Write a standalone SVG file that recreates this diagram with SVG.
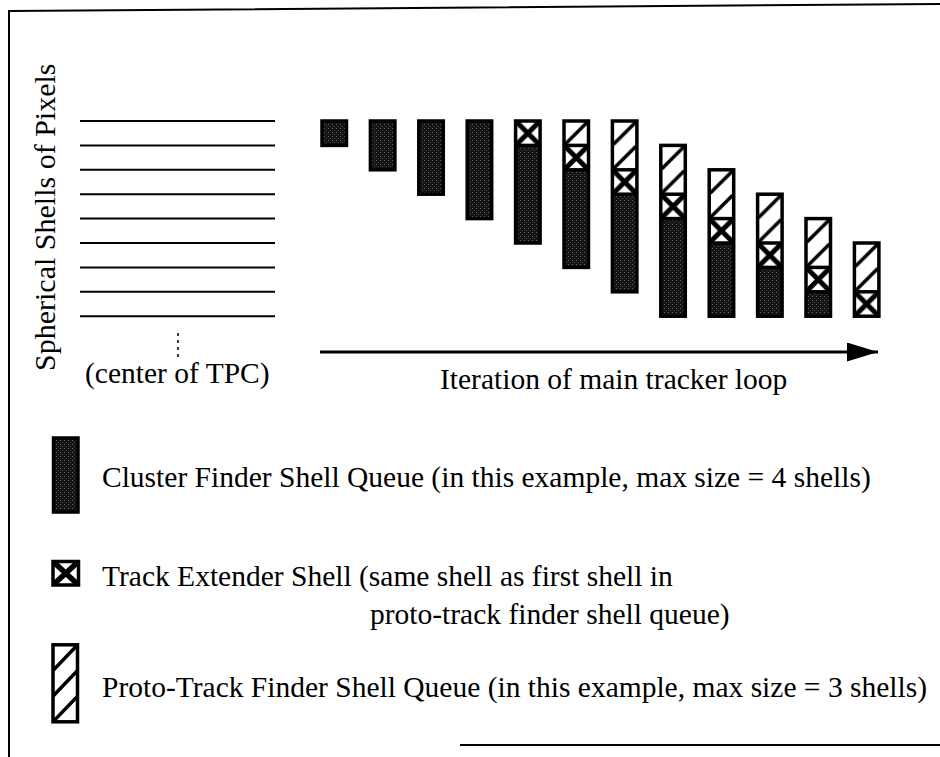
<svg xmlns="http://www.w3.org/2000/svg" width="940" height="757" viewBox="0 0 940 757">
<style>
text{font-family:"Liberation Serif","Times New Roman",serif;font-size:29.5px;fill:#000}
.frame{stroke:#000;stroke-width:2;fill:none}
.shell{stroke:#000;stroke-width:2}
.ol{fill:none;stroke:#000;stroke-width:3.5}
.dv{stroke:#000;stroke-width:3.5}
.D{fill:url(#stipple)}
.X{fill:url(#xhatch)}
.H{fill:url(#hatch)}
</style>
<defs>
<pattern id="stipple" patternUnits="userSpaceOnUse" x="0" y="0" width="4" height="4">
<rect width="4" height="4" fill="#141414"/>
<rect x="0" y="0" width="1" height="1" fill="#666"/>
<rect x="2" y="2" width="1" height="1" fill="#484848"/>
</pattern>
<pattern id="xhatch" patternUnits="userSpaceOnUse" x="322" y="121" width="48.4" height="24.4">
<rect width="24.5" height="24.4" fill="#fff"/>
<path d="M0,0 L24.5,24.4 M24.5,0 L0,24.4" stroke="#000" stroke-width="5"/>
</pattern>
<pattern id="hatch" patternUnits="userSpaceOnUse" x="322" y="121" width="48.4" height="24.4">
<rect width="24.5" height="24.4" fill="#fff"/>
<path d="M-2,26.4 L26.5,-2" stroke="#000" stroke-width="3.5"/>
</pattern>
<marker id="arrow" markerUnits="userSpaceOnUse" markerWidth="32" markerHeight="20" refX="31" refY="9.5" orient="auto">
<path d="M0,0 L31,9.5 L0,19 Z" fill="#000"/>
</marker>
<clipPath id="protoClip"><rect x="53" y="644.8" width="24.5" height="77"/></clipPath>
<clipPath id="teClip"><rect x="53" y="561.5" width="25.5" height="23.5"/></clipPath>
</defs>

<g id="frame">
<path class="frame" d="M9,757 L9,11 L940,4"/>
<path class="frame" d="M460,745 L940,745"/>
</g>

<g id="shells-axis">
<text transform="translate(55,371) rotate(-90)" style="font-size:30px">Spherical Shells of Pixels</text>
<line class="shell" x1="80" y1="121" x2="275" y2="121"/>
<line class="shell" x1="80" y1="145.4" x2="275" y2="145.4"/>
<line class="shell" x1="80" y1="169.8" x2="275" y2="169.8"/>
<line class="shell" x1="80" y1="194.2" x2="275" y2="194.2"/>
<line class="shell" x1="80" y1="218.6" x2="275" y2="218.6"/>
<line class="shell" x1="80" y1="243" x2="275" y2="243"/>
<line class="shell" x1="80" y1="267.4" x2="275" y2="267.4"/>
<line class="shell" x1="80" y1="291.8" x2="275" y2="291.8"/>
<line class="shell" x1="80" y1="316.2" x2="275" y2="316.2"/>
<line x1="178" y1="333" x2="178" y2="358" stroke="#000" stroke-width="1.5" stroke-dasharray="3,4"/>
<text x="85" y="383">(center of TPC)</text>
</g>

<g id="bar1"><rect class="D" x="322" y="121" width="24.5" height="24.4"/><rect class="ol" x="322" y="121" width="24.5" height="24.4"/></g>
<g id="bar2"><rect class="D" x="370.4" y="121" width="24.5" height="48.8"/><rect class="ol" x="370.4" y="121" width="24.5" height="48.8"/></g>
<g id="bar3"><rect class="D" x="418.8" y="121" width="24.5" height="73.2"/><rect class="ol" x="418.8" y="121" width="24.5" height="73.2"/></g>
<g id="bar4"><rect class="D" x="467.2" y="121" width="24.5" height="97.6"/><rect class="ol" x="467.2" y="121" width="24.5" height="97.6"/></g>
<g id="bar5">
<rect class="X" x="515.6" y="121" width="24.5" height="24.4"/>
<rect class="D" x="515.6" y="145.4" width="24.5" height="97.6"/>
<rect class="ol" x="515.6" y="121" width="24.5" height="122"/>
<line class="dv" x1="515.6" y1="145.4" x2="540.1" y2="145.4"/>
</g>
<g id="bar6">
<rect class="H" x="564" y="121" width="24.5" height="24.4"/>
<rect class="X" x="564" y="145.4" width="24.5" height="24.4"/>
<rect class="D" x="564" y="169.8" width="24.5" height="97.6"/>
<rect class="ol" x="564" y="121" width="24.5" height="146.4"/>
<line class="dv" x1="564" y1="145.4" x2="588.5" y2="145.4"/>
<line class="dv" x1="564" y1="169.8" x2="588.5" y2="169.8"/>
</g>
<g id="bar7">
<rect class="H" x="612.4" y="121" width="24.5" height="48.8"/>
<rect class="X" x="612.4" y="169.8" width="24.5" height="24.4"/>
<rect class="D" x="612.4" y="194.2" width="24.5" height="97.6"/>
<rect class="ol" x="612.4" y="121" width="24.5" height="170.8"/>
<line class="dv" x1="612.4" y1="169.8" x2="636.9" y2="169.8"/>
<line class="dv" x1="612.4" y1="194.2" x2="636.9" y2="194.2"/>
</g>
<g id="bar8">
<rect class="H" x="660.8" y="145.4" width="24.5" height="48.8"/>
<rect class="X" x="660.8" y="194.2" width="24.5" height="24.4"/>
<rect class="D" x="660.8" y="218.6" width="24.5" height="97.6"/>
<rect class="ol" x="660.8" y="145.4" width="24.5" height="170.8"/>
<line class="dv" x1="660.8" y1="194.2" x2="685.3" y2="194.2"/>
<line class="dv" x1="660.8" y1="218.6" x2="685.3" y2="218.6"/>
</g>
<g id="bar9">
<rect class="H" x="709.2" y="169.8" width="24.5" height="48.8"/>
<rect class="X" x="709.2" y="218.6" width="24.5" height="24.4"/>
<rect class="D" x="709.2" y="243" width="24.5" height="73.2"/>
<rect class="ol" x="709.2" y="169.8" width="24.5" height="146.4"/>
<line class="dv" x1="709.2" y1="218.6" x2="733.7" y2="218.6"/>
<line class="dv" x1="709.2" y1="243" x2="733.7" y2="243"/>
</g>
<g id="bar10">
<rect class="H" x="757.6" y="194.2" width="24.5" height="48.8"/>
<rect class="X" x="757.6" y="243" width="24.5" height="24.4"/>
<rect class="D" x="757.6" y="267.4" width="24.5" height="48.8"/>
<rect class="ol" x="757.6" y="194.2" width="24.5" height="122"/>
<line class="dv" x1="757.6" y1="243" x2="782.1" y2="243"/>
<line class="dv" x1="757.6" y1="267.4" x2="782.1" y2="267.4"/>
</g>
<g id="bar11">
<rect class="H" x="806" y="218.6" width="24.5" height="48.8"/>
<rect class="X" x="806" y="267.4" width="24.5" height="24.4"/>
<rect class="D" x="806" y="291.8" width="24.5" height="24.4"/>
<rect class="ol" x="806" y="218.6" width="24.5" height="97.6"/>
<line class="dv" x1="806" y1="267.4" x2="830.5" y2="267.4"/>
<line class="dv" x1="806" y1="291.8" x2="830.5" y2="291.8"/>
</g>
<g id="bar12">
<rect class="H" x="854.4" y="243" width="24.5" height="48.8"/>
<rect class="X" x="854.4" y="291.8" width="24.5" height="24.4"/>
<rect class="ol" x="854.4" y="243" width="24.5" height="73.2"/>
<line class="dv" x1="854.4" y1="291.8" x2="878.9" y2="291.8"/>
</g>

<g id="connectors">
<line x1="320" y1="352" x2="878" y2="352" stroke="#000" stroke-width="3" marker-end="url(#arrow)"/>
</g>
<g id="axis-label"><text x="440" y="389">Iteration of main tracker loop</text></g>

<g id="legend-cluster">
<rect class="D" x="53.5" y="438" width="24.5" height="74"/>
<rect class="ol" x="53.5" y="438" width="24.5" height="74"/>
<text x="102" y="487">Cluster Finder Shell Queue (in this example, max size = 4 shells)</text>
</g>
<g id="legend-extender">
<rect x="53" y="561.5" width="25.5" height="23.5" fill="#fff"/>
<path clip-path="url(#teClip)" d="M53,561.5 L78.5,585 M78.5,561.5 L53,585" stroke="#000" stroke-width="5.5"/>
<rect class="ol" x="53" y="561.5" width="25.5" height="23.5"/>
<text x="102" y="586">Track Extender Shell (same shell as first shell in</text>
<text x="370" y="624">proto-track finder shell queue)</text>
</g>
<g id="legend-proto">
<rect x="53" y="644.8" width="24.5" height="77" fill="#fff"/>
<path clip-path="url(#protoClip)" d="M51,672.5 L79.5,642.8 M51,698.2 L79.5,668.5 M51,723.8 L79.5,694.2" stroke="#000" stroke-width="3.5"/>
<rect class="ol" x="53" y="644.8" width="24.5" height="77"/>
<text x="102" y="697">Proto-Track Finder Shell Queue (in this example, max size = 3 shells)</text>
</g>
</svg>
